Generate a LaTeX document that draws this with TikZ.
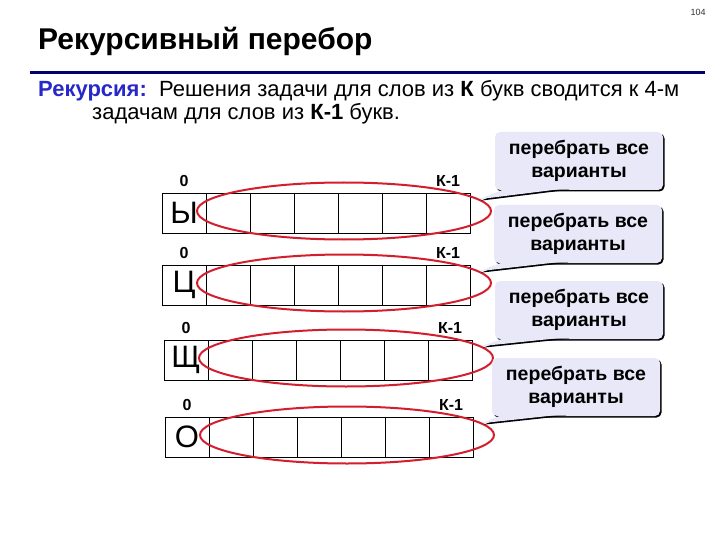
\documentclass[tikz,border=0pt]{standalone}
\usepackage{fontspec}
\setmainfont{Liberation Sans}
\usetikzlibrary{positioning,calc,shapes.geometric,shadows}

\definecolor{rulenavy}{RGB}{0,0,110}
\definecolor{keyblue}{RGB}{40,40,200}
\definecolor{ovalred}{RGB}{210,30,45}
\definecolor{notefill}{RGB}{232,232,248}

\tikzset{
  cell/.style={draw, minimum width=44pt, minimum height=40pt, inner sep=0pt, outer sep=0pt,
    font=\fontsize{31}{31}\selectfont},
  idx/.style={font=\bfseries\fontsize{16}{16}\selectfont, inner sep=1pt},
  oval/.style={ellipse, draw=ovalred, line width=2pt, minimum width=294pt, minimum height=57pt, inner sep=0pt},
  blackshadow/.style={drop shadow={opacity=1, fill=black, shadow xshift=1.5pt, shadow yshift=-1.5pt}},
  note/.style={fill=notefill, rounded corners=5pt, minimum width=168pt, minimum height=58pt,
    align=center, font=\bfseries\fontsize{19.5}{23}\selectfont, blackshadow},
  tail/.style={fill=notefill, blackshadow}
}

\begin{document}
\begin{tikzpicture}[x=1pt,y=-1pt]
\useasboundingbox[fill=white] (0,0) rectangle (720,540);

\node[font=\fontsize{9}{9}\selectfont, text=black!80] (page) at (698,12) {104};
\node[anchor=base west, inner sep=0pt, font=\bfseries\fontsize{30}{30}\selectfont] (title) at (38,50) {Рекурсивный перебор};
\coordinate (ruleL) at (30,73);
\coordinate (ruleR) at (705,73);
\draw[rulenavy, line width=3pt] (ruleL) -- (ruleR);
\node[anchor=base west, inner sep=0pt, font=\fontsize{22}{22}\selectfont] (line1) at (38,97)
  {\textcolor{keyblue}{\bfseries Рекурсия:}\ \ Решения задачи для слов из \textbf{К} букв сводится к 4-м};
\node[anchor=base west, inner sep=0pt, font=\fontsize{22}{22}\selectfont] (line2) at (92,120)
  {задачам для слов из \textbf{К-1} букв.};

% rows: top, left, letter, callout centre
\foreach \r/\top/\left/\ch/\nx/\ny in {1/193/162/Ы/579/161, 2/265/162/Ц/578/234, 3/340/164/Щ/579/310, 4/417/165/О/576/387}{
  \node[cell] (c\r-0) at (\left+22,\top+20) {\ch};
  \foreach \j [remember=\j as \k (initially 0)] in {1,...,6}
    \node[cell, right=0pt of c\r-\k] (c\r-\j) {};
  \node[idx, above=5pt of c\r-0] (zero\r) {0};
  \node[idx, above=5pt of c\r-6] (last\r) {К-1};
  \node[oval] (e\r) at ($(c\r-1.west)!0.5!(c\r-6.east)+(6,-2)$) {};
  \node[note] (n\r) at (\nx,\ny) {перебрать все\\варианты};
  \path[tail] ([xshift=12pt,yshift=2pt]n\r.south west) -- (e\r.5) -- ([xshift=73pt,yshift=2pt]n\r.south west) -- cycle;
}
\end{tikzpicture}
\end{document}
